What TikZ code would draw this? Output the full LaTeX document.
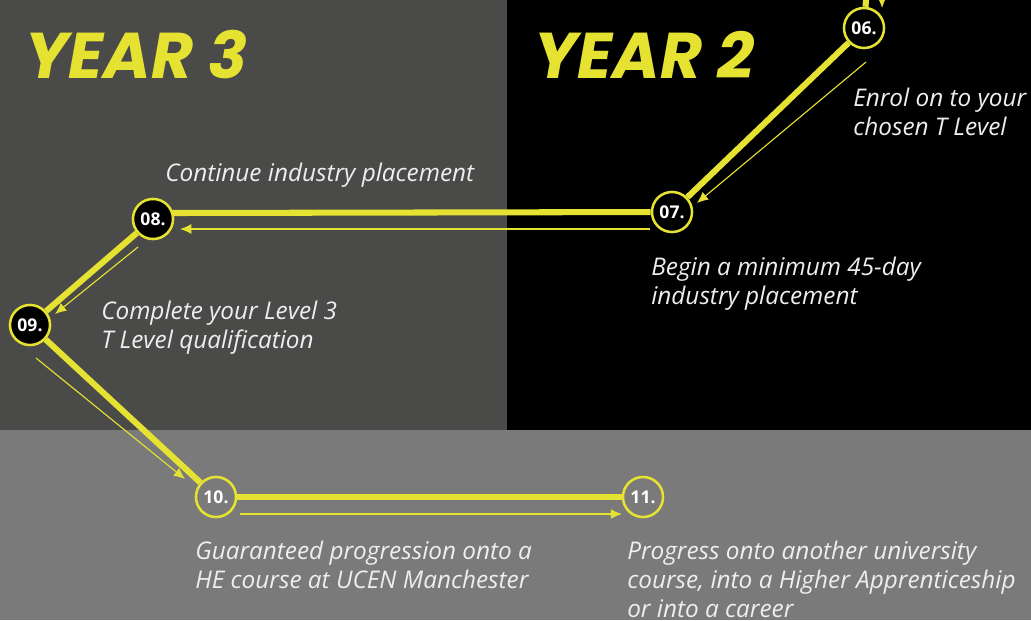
\documentclass[tikz,border=0pt]{standalone}
\usepackage{fontspec}
\setmainfont{Open Sans}
\newfontfamily\yearfont{Poppins}
\usetikzlibrary{arrows.meta}
\definecolor{tyellow}{HTML}{E6E232}
\definecolor{darkbg}{HTML}{4A4A49}
\definecolor{lowbg}{HTML}{7A7A7A}
\definecolor{labelwhite}{HTML}{EEEEEE}

\tikzset{
  stage/.style={circle, draw=tyellow, line width=1.8pt, minimum size=28.5pt, inner sep=0pt,
    text=white, font=\bfseries\fontsize{12.5}{12.5}\selectfont},
  route/.style={tyellow, line width=4.3pt},
  hint/.style={tyellow, line width=0.8pt, -{Latex[length=8pt,width=7pt]}},
  caption/.style={anchor=base west, align=left, inner sep=0pt, text=labelwhite,
    font=\itshape\fontsize{17.3}{20.6}\selectfont},
  yeartitle/.style={anchor=base west, inner sep=0pt, text=tyellow,
    font=\yearfont\bfseries\itshape\fontsize{46}{46}\selectfont}
}

\begin{document}
\begin{tikzpicture}[x=0.025cm, y=-0.025cm]
    \useasboundingbox (0,0) rectangle (1031,620);
    \fill[darkbg] (0,0) rectangle (507,430);
    \fill[black] (507,0) rectangle (1031,430);
    \fill[lowbg] (0,430) rectangle (1031,620);

    \node[yeartitle] (year3) at (25,78) {YEAR 3};
    \node[yeartitle] (year2) at (534,78) {YEAR 2};

    \coordinate (top) at (866,0);
    \coordinate (toparrow) at (882,8);
    \node[stage, fill=black] (n06) at (864,28) {06.};
    \node[stage, fill=black] (n07) at (672,212) {07.};
    \node[stage, fill=black] (n08) at (153,219) {08.};
    \node[stage, fill=black] (n09) at (30,325) {09.};
    \node[stage, fill=lowbg] (n10) at (216,497) {10.};
    \node[stage, fill=lowbg] (n11) at (643,497) {11.};
    \path (n08) ++(19,-6) coordinate (j08);

    \draw[route] (top) -- (n06);
    \draw[route] (n06) -- (n07);
    \draw[route] (n07) -- (j08);
    \draw[route] (n08) -- (n09);
    \draw[route] (n09) -- (n10);
    \draw[route] (n10) -- (n11);

    \draw[hint] (882,-4) -- (toparrow);
    \draw[hint] (866,62) -- (697,203);
    \draw[hint] (650,229) -- (180,229);
    \draw[hint] (138,247) -- (55,314);
    \draw[hint] (36,358) -- (185,479);
    \draw[hint] (240,514) -- (622,514);

    \node[caption] (t06) at (853,135) {Enrol on to your\\chosen T Level};
    \node[caption] (t08) at (165,181) {Continue industry placement};
    \node[caption] (t07) at (651,304) {Begin a minimum 45-day\\industry placement};
    \node[caption] (t09) at (101,348) {Complete your Level 3\\T Level qualification};
    \node[caption] (t10) at (195,588) {Guaranteed progression onto a\\HE course at UCEN Manchester};
    \node[caption] (t11) at (627,617) {Progress onto another university\\course, into a Higher Apprenticeship\\or into a career};
\end{tikzpicture}
\end{document}
